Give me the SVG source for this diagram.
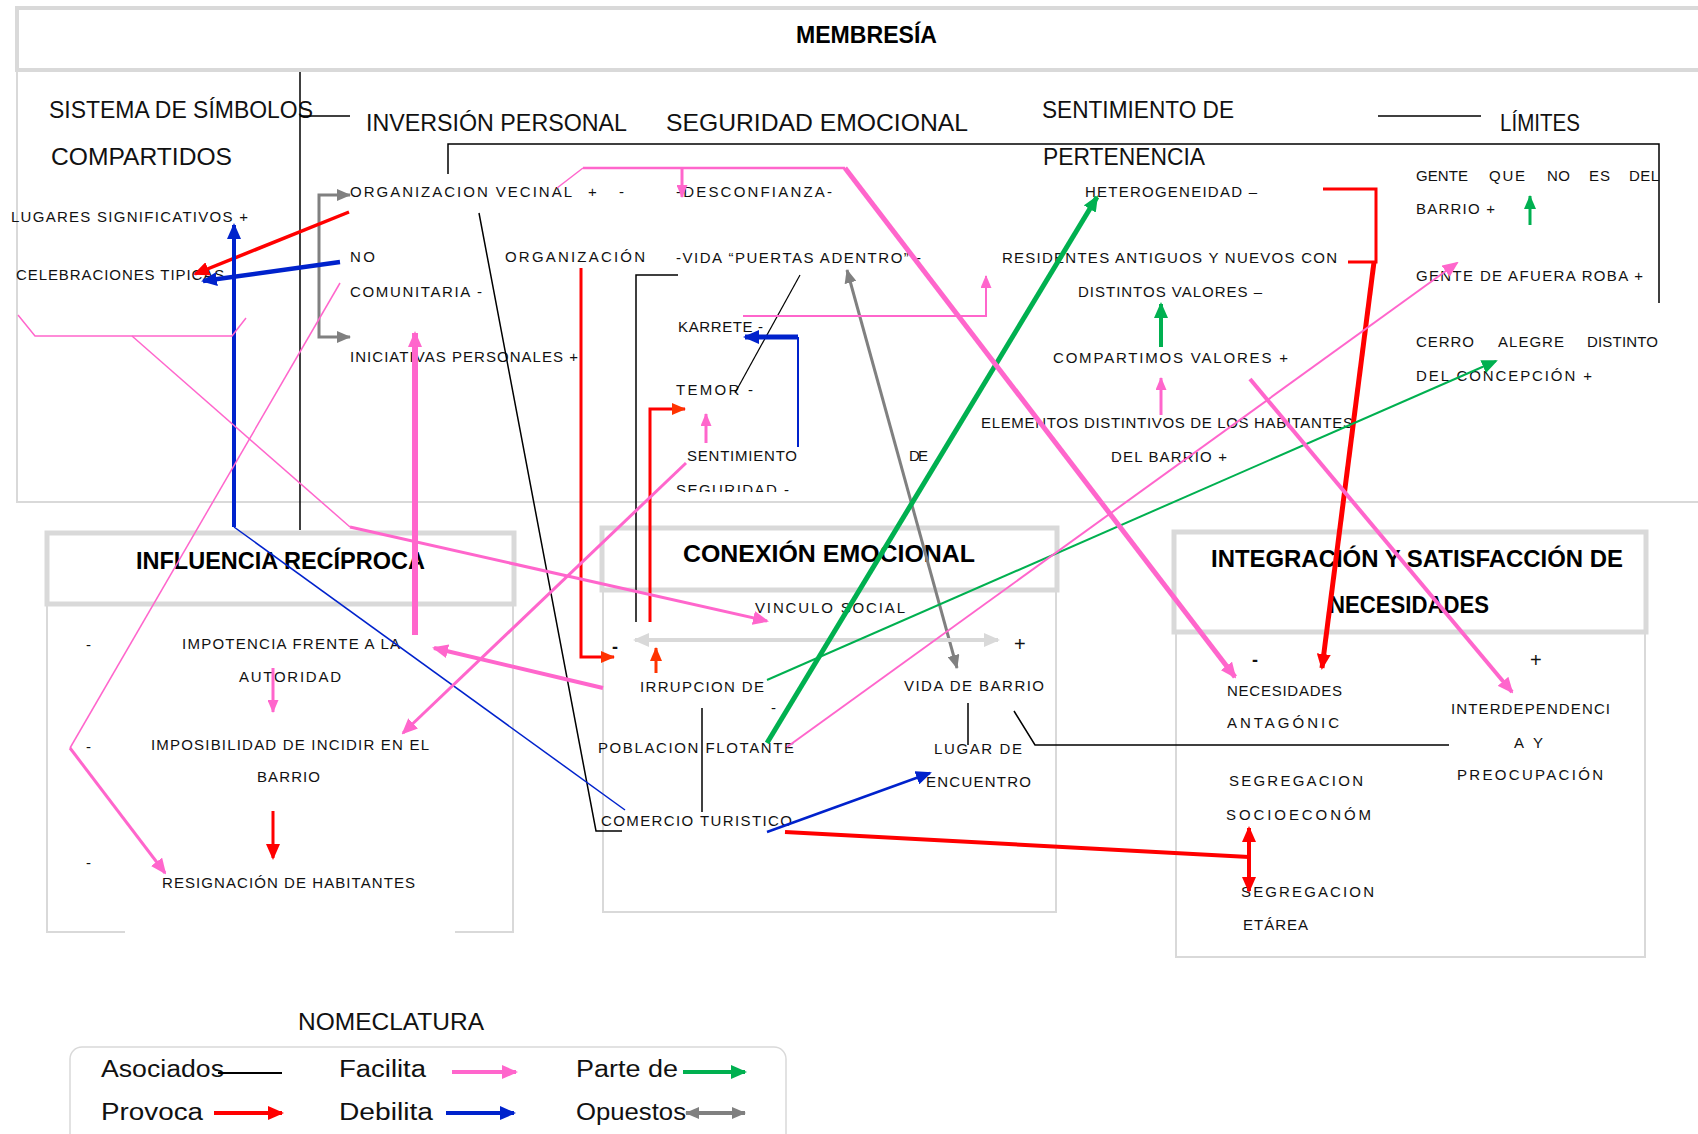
<svg xmlns="http://www.w3.org/2000/svg" width="1698" height="1134" viewBox="0 0 1698 1134">
<defs>
<style>
text{font-family:"Liberation Sans",Arial,sans-serif;fill:#111}
.s{font-size:15px}
.l{font-size:24px}
.h{font-size:23px;font-weight:bold;fill:#000}
.g{font-size:23px}
.sg{font-size:18px;font-weight:bold}
.pl{font-size:20px}
.hdr{fill:#fff;stroke:#d9d9d9;stroke-width:5}
.bdy{fill:none;stroke:#d9d9d9;stroke-width:2}
.k{fill:none;stroke:#000;stroke-width:1.5}
.pk{fill:none;stroke:#ff66cc}
.rd{fill:none;stroke:#ff0000}
.bl{fill:none;stroke:#0022cc}
.gr{fill:none;stroke:#00b050}
.gy{fill:none;stroke:#808080}
.lgy{fill:none;stroke:#d9d9d9}
</style>
<marker id="aP" viewBox="0 0 16 14" refX="14" refY="7" markerWidth="16" markerHeight="14" markerUnits="userSpaceOnUse" orient="auto"><path d="M0,0 L16,7 L0,14 z" fill="#ff66cc"/></marker>
<marker id="aPs" viewBox="0 0 13 11" refX="12" refY="5.5" markerWidth="13" markerHeight="11" markerUnits="userSpaceOnUse" orient="auto"><path d="M0,0 L13,5.5 L0,11 z" fill="#ff66cc"/></marker>
<marker id="aR" viewBox="0 0 16 14" refX="14" refY="7" markerWidth="16" markerHeight="14" markerUnits="userSpaceOnUse" orient="auto"><path d="M0,0 L16,7 L0,14 z" fill="#ff0000"/></marker>
<marker id="aRd" viewBox="0 0 16 14" refX="14" refY="7" markerWidth="16" markerHeight="14" markerUnits="userSpaceOnUse" orient="auto-start-reverse"><path d="M0,0 L16,7 L0,14 z" fill="#ff0000"/></marker>
<marker id="aO" viewBox="0 0 14 12" refX="13" refY="6" markerWidth="14" markerHeight="12" markerUnits="userSpaceOnUse" orient="auto"><path d="M0,0 L14,6 L0,12 z" fill="#ff3300"/></marker>
<marker id="aB" viewBox="0 0 16 14" refX="14" refY="7" markerWidth="16" markerHeight="14" markerUnits="userSpaceOnUse" orient="auto"><path d="M0,0 L16,7 L0,14 z" fill="#0022cc"/></marker>
<marker id="aG" viewBox="0 0 16 14" refX="14" refY="7" markerWidth="16" markerHeight="14" markerUnits="userSpaceOnUse" orient="auto"><path d="M0,0 L16,7 L0,14 z" fill="#00b050"/></marker>
<marker id="aGs" viewBox="0 0 14 12" refX="13" refY="6" markerWidth="14" markerHeight="12" markerUnits="userSpaceOnUse" orient="auto"><path d="M0,0 L14,6 L0,12 z" fill="#00b050"/></marker>
<marker id="aK" viewBox="0 0 14 12" refX="13" refY="6" markerWidth="14" markerHeight="12" markerUnits="userSpaceOnUse" orient="auto-start-reverse"><path d="M0,0 L14,6 L0,12 z" fill="#808080"/></marker>
<marker id="aL" viewBox="0 0 16 14" refX="14" refY="7" markerWidth="16" markerHeight="14" markerUnits="userSpaceOnUse" orient="auto-start-reverse"><path d="M0,0 L16,7 L0,14 z" fill="#d9d9d9"/></marker>
<clipPath id="cutSeg"><rect x="0" y="0" width="1698" height="492"/></clipPath>
</defs>
<rect x="0" y="0" width="1698" height="1134" fill="#fff"/>

<g id="membresia">
<path class="bdy" d="M17,70 L17,502 L1700,502"/>
<rect class="hdr" x="17" y="8" width="1720" height="62" style="stroke-width:4"/>
<text class="h" x="796" y="43" textLength="141" lengthAdjust="spacingAndGlyphs">MEMBRESÍA</text>
</g>

<g id="sistema-simbolos">
<text class="l" x="49" y="118" textLength="264" lengthAdjust="spacingAndGlyphs">SISTEMA DE SÍMBOLOS</text>
<text class="l" x="51" y="165" textLength="181" lengthAdjust="spacingAndGlyphs">COMPARTIDOS</text>
<text class="s" x="11" y="222" textLength="237">LUGARES SIGNIFICATIVOS +</text>
<text class="s" x="16" y="280" textLength="223">CELEBRACIONES TIPICAS +</text>
</g>

<g id="inversion-personal">
<text class="l" x="366" y="131" textLength="261" lengthAdjust="spacingAndGlyphs">INVERSIÓN PERSONAL</text>
<text class="s" x="350" y="197" textLength="222">ORGANIZACION VECINAL</text>
<text class="s" x="588" y="197">+</text>
<text class="s" x="619" y="197">-</text>
<text class="s" x="350" y="262" textLength="25">NO</text>
<text class="s" x="350" y="297" textLength="132">COMUNITARIA -</text>
<text class="s" x="505" y="262" textLength="140">ORGANIZACIÓN</text>
<text class="s" x="350" y="362" textLength="228">INICIATIVAS PERSONALES +</text>
</g>

<g id="seguridad-emocional">
<text class="l" x="666" y="131" textLength="302" lengthAdjust="spacingAndGlyphs">SEGURIDAD EMOCIONAL</text>
<text class="s" x="676" y="197" textLength="156">-DESCONFIANZA-</text>
<text class="s" x="676" y="263" textLength="245">-VIDA “PUERTAS ADENTRO” -</text>
<text class="s" x="678" y="332" textLength="85">KARRETE -</text>
<text class="s" x="676" y="395" textLength="77">TEMOR -</text>
<text class="s" x="687" y="461" textLength="110">SENTIMIENTO</text>
<text class="s" x="909" y="461" textLength="19">DE</text>
<text class="s" x="676" y="495" textLength="113" clip-path="url(#cutSeg)">SEGURIDAD -</text>
</g>

<g id="sentimiento-pertenencia">
<text class="l" x="1042" y="118" textLength="192" lengthAdjust="spacingAndGlyphs">SENTIMIENTO DE</text>
<text class="l" x="1043" y="165" textLength="162" lengthAdjust="spacingAndGlyphs">PERTENENCIA</text>
<text class="s" x="1085" y="197" textLength="172">HETEROGENEIDAD –</text>
<text class="s" x="1002" y="263" textLength="335">RESIDENTES ANTIGUOS Y NUEVOS CON</text>
<text class="s" x="1078" y="297" textLength="184">DISTINTOS VALORES –</text>
<text class="s" x="1053" y="363" textLength="235">COMPARTIMOS VALORES +</text>
<text class="s" x="981" y="428" textLength="372">ELEMENTOS DISTINTIVOS DE LOS HABITANTES</text>
<text class="s" x="1111" y="462" textLength="116">DEL BARRIO +</text>
</g>

<g id="limites">
<text class="l" x="1500" y="131" textLength="80" lengthAdjust="spacingAndGlyphs">LÍMITES</text>
<text class="s" x="1416" y="181" textLength="52">GENTE</text>
<text class="s" x="1489" y="181" textLength="36">QUE</text>
<text class="s" x="1547" y="181" textLength="23">NO</text>
<text class="s" x="1589" y="181" textLength="21">ES</text>
<text class="s" x="1629" y="181" textLength="30">DEL</text>
<text class="s" x="1416" y="214" textLength="79">BARRIO +</text>
<text class="s" x="1416" y="281" textLength="227">GENTE DE AFUERA ROBA +</text>
<text class="s" x="1416" y="347" textLength="58">CERRO</text>
<text class="s" x="1498" y="347" textLength="66">ALEGRE</text>
<text class="s" x="1587" y="347" textLength="71">DISTINTO</text>
<text class="s" x="1416" y="381" textLength="176">DEL CONCEPCIÓN +</text>
</g>

<g id="influencia-reciproca">
<path class="bdy" d="M47,604 L47,932 L125,932 M455,932 L513,932 L513,604"/>
<rect class="hdr" x="47" y="533" width="467" height="71"/>
<text class="h" x="136" y="569" textLength="289" lengthAdjust="spacingAndGlyphs">INFLUENCIA RECÍPROCA</text>
<text class="s" x="86" y="650">-</text>
<text class="s" x="86" y="752">-</text>
<text class="s" x="86" y="868">-</text>
<text class="s" x="182" y="649" textLength="218">IMPOTENCIA FRENTE A LA</text>
<text class="s" x="239" y="682" textLength="102">AUTORIDAD</text>
<text class="s" x="151" y="750" textLength="278">IMPOSIBILIDAD DE INCIDIR EN EL</text>
<text class="s" x="257" y="782" textLength="63">BARRIO</text>
<text class="s" x="162" y="888" textLength="253">RESIGNACIÓN DE HABITANTES</text>
</g>

<g id="conexion-emocional">
<rect class="bdy" x="603" y="590" width="453" height="322"/>
<rect class="hdr" x="602" y="528" width="455" height="62"/>
<text class="h" x="683" y="562" textLength="292" lengthAdjust="spacingAndGlyphs">CONEXIÓN EMOCIONAL</text>
<text class="s" x="755" y="613" textLength="150">VINCULO SOCIAL</text>
<text class="sg" x="612" y="653">-</text>
<text class="pl" x="1014" y="651">+</text>
<text class="s" x="640" y="692" textLength="124">IRRUPCION DE</text>
<text class="s" x="771" y="713">-</text>
<text class="s" x="598" y="753" textLength="196">POBLACION FLOTANTE</text>
<text class="s" x="601" y="826" textLength="191">COMERCIO TURISTICO</text>
<text class="s" x="904" y="691" textLength="140">VIDA DE BARRIO</text>
<text class="s" x="934" y="754" textLength="88">LUGAR DE</text>
<text class="s" x="926" y="787" textLength="105">ENCUENTRO</text>
</g>

<g id="integracion-necesidades">
<rect class="bdy" x="1176" y="632" width="469" height="325"/>
<rect class="hdr" x="1174" y="532" width="472" height="100"/>
<text class="h" x="1211" y="567" textLength="412" lengthAdjust="spacingAndGlyphs">INTEGRACIÓN Y SATISFACCIÓN DE</text>
<text class="h" x="1329" y="613" textLength="160" lengthAdjust="spacingAndGlyphs">NECESIDADES</text>
<text class="sg" x="1252" y="666">-</text>
<text class="pl" x="1530" y="667">+</text>
<text class="s" x="1227" y="696" textLength="115">NECESIDADES</text>
<text class="s" x="1227" y="728" textLength="112">ANTAGÓNIC</text>
<text class="s" x="1451" y="714" textLength="159">INTERDEPENDENCI</text>
<text class="s" x="1514" y="748" textLength="29">A Y</text>
<text class="s" x="1457" y="780" textLength="146">PREOCUPACIÓN</text>
<text class="s" x="1229" y="786" textLength="134">SEGREGACION</text>
<text class="s" x="1226" y="820" textLength="145">SOCIOECONÓM</text>
<text class="s" x="1241" y="897" textLength="133">SEGREGACION</text>
<text class="s" x="1243" y="930" textLength="65">ETÁREA</text>
</g>

<g id="nomenclatura">
<text class="l" x="298" y="1030" textLength="186" lengthAdjust="spacingAndGlyphs">NOMECLATURA</text>
<rect x="70" y="1047" width="716" height="110" rx="12" fill="none" stroke="#d9d9d9" stroke-width="1.5"/>
<text class="g" x="101" y="1077" textLength="123" lengthAdjust="spacingAndGlyphs">Asociados</text>
<text class="g" x="339" y="1077" textLength="87" lengthAdjust="spacingAndGlyphs">Facilita</text>
<text class="g" x="576" y="1077" textLength="102" lengthAdjust="spacingAndGlyphs">Parte de</text>
<text class="g" x="101" y="1120" textLength="102" lengthAdjust="spacingAndGlyphs">Provoca</text>
<text class="g" x="339" y="1120" textLength="94" lengthAdjust="spacingAndGlyphs">Debilita</text>
<text class="g" x="576" y="1120" textLength="110" lengthAdjust="spacingAndGlyphs">Opuestos</text>
<path class="k" d="M218,1073 L282,1073" style="stroke-width:2"/>
<path class="pk" d="M452,1072 L516,1072" stroke-width="4" marker-end="url(#aP)"/>
<path class="gr" d="M683,1072 L745,1072" stroke-width="4" marker-end="url(#aG)"/>
<path class="rd" d="M214,1113 L282,1113" stroke-width="4" marker-end="url(#aR)"/>
<path class="bl" d="M446,1113 L514,1113" stroke-width="4" marker-end="url(#aB)"/>
<path class="gy" d="M686,1113 L745,1113" stroke-width="4" marker-start="url(#aK)" marker-end="url(#aK)"/>
</g>

<g id="connectors">
<path class="k" d="M300,72 L300,530"/>
<path class="k" d="M300,116 L350,116"/>
<path class="k" d="M448,174 L448,144 L1659,144 L1659,303"/>
<path class="k" d="M1378,116 L1481,116"/>
<path class="k" d="M678,275 L636,275 L636,622"/>
<path class="k" d="M800,275 L735,393" style="stroke-width:1.2"/>
<path class="k" d="M479,213 L596,831 L622,831"/>
<path class="k" d="M702,708 L702,812"/>
<path class="k" d="M968,703 L968,745"/>
<path class="k" d="M1014,711 L1035,745 L1449,745"/>
<path class="gy" d="M319,266 L319,195 L350,195" stroke-width="3" marker-end="url(#aK)"/>
<path class="gy" d="M319,266 L319,337 L350,337" stroke-width="3" marker-end="url(#aK)"/>
<path class="gy" d="M847,270 L957,668" stroke-width="3" marker-start="url(#aK)" marker-end="url(#aK)"/>
<path class="lgy" d="M635,640 L998,640" stroke-width="4" marker-start="url(#aL)" marker-end="url(#aL)"/>
<path class="rd" d="M349,212 L195,274" stroke-width="3.5" marker-end="url(#aR)"/>
<path class="rd" d="M581,268 L581,657 L614,657" stroke-width="3" marker-end="url(#aO)"/>
<path class="rd" d="M650,622 L650,409 L685,409" stroke-width="3" marker-end="url(#aO)"/>
<path d="M656,673 L656,648" fill="none" stroke="#ff3300" stroke-width="3" marker-end="url(#aO)"/>
<path class="rd" d="M273,811 L273,858" stroke-width="3" marker-end="url(#aR)"/>
<path class="rd" d="M1323,189 L1376,189 L1376,262 L1348,262" stroke-width="3"/>
<path class="rd" d="M1374,262 L1322,668" stroke-width="5" marker-end="url(#aR)"/>
<path class="rd" d="M785,832 L1249,857" stroke-width="4"/>
<path class="rd" d="M1249,828 L1249,891" stroke-width="4" marker-start="url(#aRd)" marker-end="url(#aRd)"/>
<path class="bl" d="M340,262 L203,281" stroke-width="4.5" marker-end="url(#aB)"/>
<path class="bl" d="M234,527 L234,225" stroke-width="4" marker-end="url(#aB)"/>
<path class="bl" d="M234,527 L625,810" stroke-width="1.5"/>
<path class="bl" d="M798,447 L798,337" stroke-width="2"/>
<path class="bl" d="M798,337 L745,337" stroke-width="5" marker-end="url(#aB)"/>
<path class="bl" d="M767,832 L930,773" stroke-width="2.5" marker-end="url(#aB)"/>
<path class="gr" d="M767,743 L1097,197" stroke-width="5" marker-end="url(#aG)"/>
<path class="gr" d="M1161,347 L1161,304" stroke-width="4" marker-end="url(#aG)"/>
<path class="gr" d="M767,680 L1496,361" stroke-width="2" marker-end="url(#aG)"/>
<path class="gr" d="M1530,225 L1530,196" stroke-width="3" marker-end="url(#aGs)"/>
<path class="pk" d="M18,315 L35,336 L232,336 L246,318" stroke-width="1.5"/>
<path class="pk" d="M132,336 L350,527" stroke-width="1.5"/>
<path class="pk" d="M350,527 L767,621" stroke-width="3" marker-end="url(#aP)"/>
<path class="pk" d="M340,283 L70,748" stroke-width="1.5"/>
<path class="pk" d="M70,748 L165,873" stroke-width="3" marker-end="url(#aP)"/>
<path class="pk" d="M557,188 L583,168" stroke-width="1.5"/>
<path class="pk" d="M583,168 L845,168" stroke-width="2.5"/>
<path class="pk" d="M682,168 L682,197" stroke-width="3" marker-end="url(#aPs)"/>
<path class="pk" d="M845,168 L1235,677" stroke-width="5" marker-end="url(#aP)"/>
<path class="pk" d="M743,316 L986,316 L986,276" stroke-width="2" marker-end="url(#aPs)"/>
<path class="pk" d="M1161,415 L1161,378" stroke-width="3" marker-end="url(#aPs)"/>
<path class="pk" d="M787,747 L1457,263" stroke-width="2" marker-end="url(#aP)"/>
<path class="pk" d="M1250,379 L1512,692" stroke-width="4" marker-end="url(#aP)"/>
<path class="pk" d="M415,635 L415,333" stroke-width="6" marker-end="url(#aP)"/>
<path class="pk" d="M706,443 L706,414" stroke-width="3" marker-end="url(#aPs)"/>
<path class="pk" d="M686,463 L403,733" stroke-width="3" marker-end="url(#aP)"/>
<path class="pk" d="M603,688 L434,648" stroke-width="4" marker-end="url(#aP)"/>
<path class="pk" d="M273,668 L273,712" stroke-width="3" marker-end="url(#aPs)"/>
</g>
</svg>
